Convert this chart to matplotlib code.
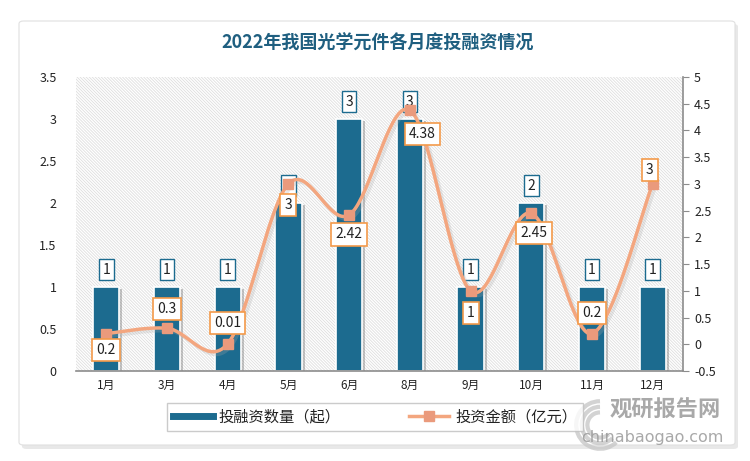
import numpy as np
import matplotlib
matplotlib.use("Agg")
import matplotlib.pyplot as plt
from matplotlib.patches import FancyBboxPatch, Rectangle, Arc
from matplotlib.lines import Line2D
import matplotlib.patheffects as pe

plt.rcParams['font.family'] = ['Noto Sans CJK SC', 'DejaVu Sans']
plt.rcParams['hatch.linewidth'] = 0.6

months = ['1月', '3月', '4月', '5月', '6月', '8月', '9月', '10月', '11月', '12月']
counts = [1, 1, 1, 2, 3, 3, 1, 2, 1, 1]
amounts = [0.2, 0.3, 0.01, 3, 2.42, 4.38, 1, 2.45, 0.2, 3]
amount_labels = ['0.2', '0.3', '0.01', '3', '2.42', '4.38', '1', '2.45', '0.2', '3']
title = '2022年我国光学元件各月度投融资情况'
series_names = ['投融资数量（起）', '投资金额（亿元）']

# label offsets (points) for amount labels
amt_off = [(0, -12), (0, 14), (0, 15), (0, -15), (0, -14), (9, -17), (0, -16), (2, -14), (0, 15), (-2, 10)]

W, H = 750, 461
fig = plt.figure(figsize=(W / 100, H / 100), dpi=100)
fig.patch.set_facecolor('white')

# outer frame with shadow
shadow = FancyBboxPatch((22 / W, 1 - 449 / H), 716 / W, 425 / H, boxstyle='round,pad=0,rounding_size=0.006',
                        transform=fig.transFigure, facecolor='#e8e8e8', edgecolor='none', zorder=-3)
frame = FancyBboxPatch((19 / W, 1 - 445 / H), 716 / W, 424 / H, boxstyle='round,pad=0,rounding_size=0.006',
                       transform=fig.transFigure, facecolor='white', edgecolor='#e0e0e0', linewidth=0.8, zorder=-2)
fig.patches.extend([shadow, frame])

ax = fig.add_axes([76 / W, 1 - 371 / H, (683 - 76) / W, (371 - 77) / H])
ax.patch.set_visible(False)
ax2 = ax.twinx()

bg = Rectangle((0, 0), 1, 1, transform=ax.transAxes, facecolor='white', edgecolor='#dedede',
               hatch='\\' * 11, linewidth=0, zorder=0)
ax.add_patch(bg)

x = np.arange(len(months))
bar_color = '#1c6b8f'
bars = ax.bar(x, counts, width=0.43, color=bar_color, edgecolor='white', linewidth=1.2, zorder=2)
for b in bars:
    b.set_path_effects([pe.SimplePatchShadow(offset=(2.2, -1.2), shadow_rgbFace='#606060', alpha=0.35),
                        pe.Normal()])

ax.set_ylim(0, 3.5)
ax.set_yticks(np.arange(0, 3.51, 0.5))
ax.set_yticklabels(['0', '0.5', '1', '1.5', '2', '2.5', '3', '3.5'])
ax.set_xlim(-0.5, len(months) - 0.5)
ax.set_xticks(x)
ax.set_xticklabels(months)
ax.tick_params(axis='y', length=0, labelsize=9, colors='#222222', pad=14)
ax.tick_params(axis='x', length=0, labelsize=8.5, colors='#222222', pad=6)
for s in ['top', 'left', 'right']:
    ax.spines[s].set_visible(False)
ax.spines['bottom'].set_color('#8c8c8c')
ax.spines['bottom'].set_linewidth(1.2)

for xi, c in zip(x, counts):
    ax.annotate(str(c), (xi, c), xytext=(0, 12.5), textcoords='offset points', ha='center', va='center',
                fontsize=10, color='#222222', zorder=5,
                bbox=dict(boxstyle='square,pad=0.25', facecolor='white', edgecolor='#1c6b8f', linewidth=1.0))

# smooth curve (Excel style smoothing, Catmull-Rom Bezier)
pts = np.column_stack([x, amounts]).astype(float)
curve = []
n = len(pts)
for i in range(n - 1):
    p0 = pts[i - 1] if i > 0 else pts[i]
    p1 = pts[i]
    p2 = pts[i + 1]
    p3 = pts[i + 2] if i + 2 < n else pts[i + 1]
    c1 = p1 + (p2 - p0) / 6
    c2 = p2 - (p3 - p1) / 6
    t = np.linspace(0, 1, 40)[:, None]
    seg = (1 - t) ** 3 * p1 + 3 * (1 - t) ** 2 * t * c1 + 3 * (1 - t) * t ** 2 * c2 + t ** 3 * p2
    curve.append(seg if i == 0 else seg[1:])
curve = np.vstack(curve)

line_color = '#f3a67f'
ax2.plot(curve[:, 0], curve[:, 1], color=line_color, linewidth=2.5, zorder=3,
         path_effects=[pe.SimpleLineShadow(offset=(2, -2), shadow_color='#aaaaaa', alpha=0.25), pe.Normal()])
ax2.plot(x, amounts, linestyle='none', marker='s', markersize=7, color='#ea9a7c', zorder=4)

ax2.set_ylim(-0.5, 5)
ax2.set_yticks(np.arange(-0.5, 5.01, 0.5))
ax2.set_yticklabels(['-0.5', '0', '0.5', '1', '1.5', '2', '2.5', '3', '3.5', '4', '4.5', '5'])
ax2.tick_params(axis='y', direction='out', length=4, color='#8c8c8c', labelsize=9, labelcolor='#222222', pad=4)
for s in ['top', 'left', 'bottom']:
    ax2.spines[s].set_visible(False)
ax2.spines['right'].set_color('#8c8c8c')
ax2.spines['right'].set_linewidth(1.2)

for xi, a, lab, off in zip(x, amounts, amount_labels, amt_off):
    ax2.annotate(lab, (xi, a), xytext=off, textcoords='offset points', ha='center', va='center',
                 fontsize=10, color='#222222', zorder=6,
                 bbox=dict(boxstyle='square,pad=0.3', facecolor='white', edgecolor='#f39a4a', linewidth=1.2))

# title
fig.text(378 / W, 1 - 43 / H, title, ha='center', va='center', fontsize=13, fontweight='bold', color='#1f5f80')

# legend
handles = [Line2D([], [], color=bar_color, linewidth=5),
           Line2D([], [], color=line_color, linewidth=2.5, marker='s', markersize=7, markerfacecolor='#ea9a7c',
                  markeredgecolor='#ea9a7c')]
leg = fig.legend(handles, series_names, loc='center', bbox_to_anchor=(375 / W, 1 - 417 / H), ncol=2,
                 frameon=True, fancybox=False, edgecolor='#bfbfbf', fontsize=11, handlelength=2.6,
                 columnspacing=4.5, borderpad=0.35, handletextpad=0.4)
leg.get_frame().set_linewidth(1.0)
for t in leg.get_texts():
    t.set_color('#222222')

# watermark
for r, lw in [(34, 3), (26, 3), (18, 3)]:
    fig.patches.append(Arc((600 / W, 1 - 425 / H), r / W * 1.4, r / H * 1.4, theta1=90, theta2=300,
                           transform=fig.transFigure, color='#c8c8c8', linewidth=lw, alpha=0.8))
fig.text(665 / W, 1 - 410 / H, '观研报告网', ha='center', va='center', fontsize=16, fontweight='bold',
         color='#9a9a9a', alpha=0.85)
fig.text(652 / W, 1 - 437 / H, 'chinabaogao.com', ha='center', va='center', fontsize=11.5,
         color='#9a9a9a', alpha=0.85, family=['DejaVu Sans'])

fig.savefig('out.png', dpi=100, facecolor='white')
